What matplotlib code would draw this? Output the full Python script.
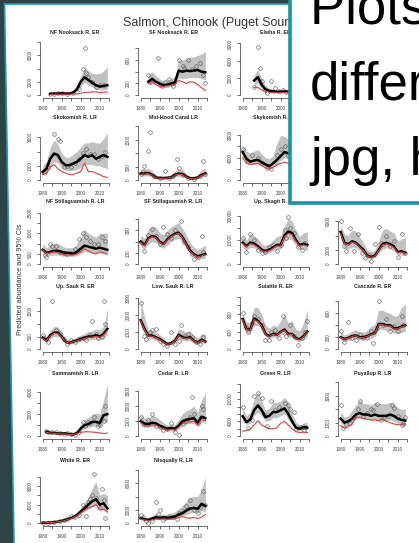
import numpy as np
import matplotlib.pyplot as plt
from matplotlib.patches import Rectangle, Polygon

plt.rcParams['font.family'] = ['Liberation Sans', 'DejaVu Sans']

W, H = 419, 543

# years of the model points (every 2nd year)
YEARS = [1980, 1982, 1984, 1986, 1988, 1990, 1992, 1994, 1996, 1998,
         2000, 2002, 2004, 2006, 2008, 2010, 2012, 2014]
N = None

# NF Nooksack R. ER
nfn_mean = [N, N, 200, 250, 250, 300, 250, 250, 400, 900, 2000, 2700, 2300, 1900, 1500, 1300, 1400, 1500]
nfn_wild = [N, N, 100, 150, 150, 150, 150, 150, 200, 200, 300, 400, 450, 500, 500, 400, 450, 500]
nfn_lo = [N, N, 100, 150, 150, 150, 150, 150, 250, 600, 1300, 1900, 1600, 1300, 900, 800, 800, 900]
nfn_hi = [N, N, 300, 400, 400, 450, 400, 400, 700, 1400, 3000, 4200, 3700, 3300, 3200, 3300, 3600, 4300]
nfn_obs = [(1984, 150), (1986, 200), (1988, 400), (1990, 300), (1993, 250), (1996, 400), (1999, 1000),
           (2001, 3900), (2002, 7100), (2003, 3400), (2004, 2700), (2006, 2000), (2008, 1300),
           (2010, 1500), (2012, 1600)]

# SF Nooksack R. ER
sfn_mean = [N, N, 230, 280, 230, 200, 170, 180, 200, 220, 420, 400, 420, 410, 420, 430, 400, 390]
sfn_wild = [N, N, 200, 230, 180, 150, 150, 160, 170, 180, 250, 230, 200, 230, 220, 180, 130, 80]
sfn_lo = [N, N, 170, 200, 170, 150, 130, 130, 150, 160, 300, 280, 290, 300, 300, 300, 280, 260]
sfn_hi = [N, N, 350, 400, 330, 280, 250, 260, 280, 320, 600, 600, 620, 650, 650, 680, 700, 750]
sfn_obs = [(1984, 350), (1985, 230), (1989, 630), (1990, 180), (1991, 160), (1993, 230), (1995, 280),
           (1997, 160), (2000, 600), (2002, 500), (2003, 470), (2005, 600), (2007, 450), (2009, 500),
           (2011, 550), (2013, 350), (2014, 200)]

# Elwha R. ER
elw_mean = [N, N, N, 1700, 2100, 1200, 700, 500, 450, 400, 400, 450, 400, 400, 350, 350, 300, 300]
elw_wild = [N, N, N, 900, 900, 600, 450, 350, 300, 300, 300, 300, 300, 300, 250, 250, 250, 250]
elw_lo = [N, N, N, 1000, 1400, 800, 450, 330, 300, 280, 280, 300, 270, 270, 230, 230, 200, 200]
elw_hi = [N, N, N, 2300, 3000, 1900, 1100, 800, 700, 650, 650, 700, 650, 650, 600, 600, 550, 550]
elw_obs = [(1986, 1000), (1988, 5600), (1989, 3100), (1990, 1700), (1992, 600), (1993, 300), (1995, 1600),
           (1997, 800), (1999, 500), (2001, 600), (2003, 400), (2005, 500), (2007, 300), (2009, 400)]

# Skokomish R. LR
sko_mean = [580, 810, 1500, 1860, 1750, 1280, 1050, 1050, 1160, 1280, 1500, 1750, 1630, 1750, 1500, 1630, 1750, 1630]
sko_wild = [400, 500, 900, 1100, 800, 600, 500, 400, 400, 500, 600, 1200, 600, 600, 500, 400, 250, 200]
sko_lo = [350, 500, 1000, 1300, 1200, 850, 700, 650, 700, 750, 900, 1100, 1100, 1100, 1000, 1000, 900, 800]
sko_hi = [1000, 1300, 2300, 2800, 2500, 1900, 1600, 1600, 1800, 2000, 2300, 2600, 2600, 2700, 2600, 2600, 2900, 3300]
sko_obs = [(1981, 600), (1983, 900), (1986, 3200), (1988, 2900), (1989, 2700), (1991, 900), (1993, 1000),
           (1995, 900), (1997, 1200), (1999, 1500), (2001, 1900), (2003, 2200), (2005, 1800), (2007, 1800),
           (2009, 1500), (2011, 1700), (2013, 2000)]

# Mid-Hood Canal LR
mhc_mean = [250, 250, 270, 200, 100, 80, 80, 90, 100, 200, 250, 230, 130, 70, 70, 100, 200, 250]
mhc_wild = [230, 230, 250, 180, 90, 70, 70, 80, 90, 180, 230, 210, 110, 60, 60, 90, 180, 230]
mhc_lo = [150, 150, 170, 120, 50, 40, 40, 50, 60, 120, 150, 130, 70, 30, 30, 50, 120, 150]
mhc_hi = [400, 400, 450, 350, 200, 150, 150, 170, 200, 350, 420, 400, 250, 150, 150, 200, 400, 450]
mhc_obs = [(1980, 250), (1981, 350), (1982, 530), (1984, 1100), (1985, 1800), (1987, 150), (1990, 80),
           (1993, 350), (1995, 100), (1997, 150), (1999, 800), (2000, 450), (2002, 200), (2005, 100),
           (2008, 50), (2011, 150), (2013, 700), (2014, 250)]

# Skykomish R. LR
sky_mean = [5000, 3800, 3300, 3500, 3600, 3200, 2800, 2500, 3000, 3600, 4300, 5000, 4800, 4500, 4200, 4000, 4200, 4000]
sky_wild = [4000, 3000, 2800, 2900, 3000, 2600, 2200, 2000, 2300, 2700, 3000, 3200, 3000, 2800, 2600, 2500, 2600, 2500]
sky_lo = [4000, 3000, 2700, 2800, 2900, 2600, 2200, 2000, 2300, 2800, 3500, 4000, 3800, 3500, 3200, 3000, 3100, 2900]
sky_hi = [6200, 5200, 4800, 5200, 5400, 4700, 4000, 3800, 4400, 6500, 8000, 7800, 7200, 6800, 6400, 6200, 6600, 6800]
sky_obs = [(1980, 5500), (1983, 3500), (1985, 4500), (1988, 4000), (1990, 3000), (1993, 2200), (1995, 2000),
           (1998, 4500), (2000, 5500), (2002, 6000), (2004, 4500), (2007, 4000), (2010, 3500), (2012, 5000)]

# NF Stillaguamish R. LR
nfs_mean = [700, 550, 600, 650, 650, 600, 550, 550, 500, 600, 750, 900, 850, 800, 750, 800, 750, 700]
nfs_wild = [700, 500, 550, 600, 550, 500, 450, 450, 450, 500, 600, 750, 650, 550, 500, 600, 550, 500]
nfs_lo = [500, 400, 420, 450, 450, 400, 380, 380, 380, 420, 520, 620, 580, 540, 520, 540, 500, 450]
nfs_hi = [1000, 800, 900, 1000, 1000, 900, 800, 800, 800, 1000, 1300, 1700, 1500, 1400, 1300, 1500, 1500, 1500]
nfs_obs = [(1981, 450), (1982, 350), (1984, 1000), (1985, 900), (1987, 900), (1989, 600), (1991, 550),
           (1993, 500), (1995, 550), (1997, 750), (1999, 1200), (2001, 1500), (2003, 1300), (2005, 1100),
           (2007, 1000), (2009, 1000), (2011, 1300), (2013, 1100)]

# SF Stillaguamish R. LR
sfs_mean = [200, 170, 230, 250, 240, 200, 180, 220, 250, 270, 280, 240, 180, 120, 90, 70, 80, 90]
sfs_wild = [195, 165, 225, 245, 235, 195, 175, 215, 245, 265, 275, 235, 175, 115, 85, 65, 75, 85]
sfs_lo = [160, 130, 180, 200, 190, 160, 140, 170, 200, 220, 230, 190, 140, 90, 60, 45, 50, 55]
sfs_hi = [260, 230, 310, 340, 330, 280, 260, 300, 330, 350, 370, 320, 260, 190, 150, 130, 150, 170]
sfs_obs = [(1980, 200), (1982, 120), (1984, 260), (1986, 310), (1988, 250), (1990, 180), (1992, 330),
           (1994, 270), (1996, 230), (1998, 300), (2001, 380), (2003, 200), (2005, 150), (2007, 90),
           (2008, 50), (2010, 60), (2012, 250), (2013, 110)]

# Up. Skagit R. LR
usk_mean = [9000, 7500, 9000, 8500, 7500, 6000, 5500, 6000, 7000, 8000, 8000, 12000, 13500, 13000, 10000, 8000, 8500, 8000]
usk_wild = [8600, 7100, 8600, 8100, 7100, 5700, 5200, 5700, 6600, 7600, 7600, 11400, 12800, 12300, 9500, 7600, 8000, 7500]
usk_lo = [7000, 5800, 7000, 6800, 6000, 4800, 4300, 4800, 5600, 6300, 6300, 9500, 10500, 10000, 7800, 6000, 6300, 5500]
usk_hi = [11500, 10000, 12500, 12000, 10500, 8500, 7800, 8500, 10000, 11500, 12000, 16000, 19000, 18000, 14000, 11500, 13000, 13500]
usk_obs = [(1980, 11000), (1982, 5000), (1984, 12500), (1986, 10000), (1988, 6000), (1990, 4500),
           (1992, 5000), (1994, 7000), (1996, 8000), (1998, 5500), (2000, 8000), (2002, 14000),
           (2003, 11000), (2004, 19500), (2005, 15000), (2007, 13000), (2009, 7000), (2011, 6000), (2013, 9000)]

# Low. Skagit R. LR (title hidden under the text box)
lsk_mean = [4500, 3000, 2800, 3200, 3000, 2500, 2000, 1200, 1000, 1200, 2000, 2800, 3000, 2800, 2500, 1700, 1800, 1600]
lsk_wild = [4300, 2900, 2700, 3100, 2900, 2400, 1900, 1150, 950, 1150, 1900, 2700, 2850, 2650, 2350, 1600, 1700, 1500]
lsk_lo = [3500, 2200, 2100, 2400, 2300, 1900, 1500, 900, 750, 900, 1500, 2100, 2300, 2100, 1900, 1300, 1300, 1200]
lsk_hi = [5500, 4200, 4000, 4800, 4600, 3800, 3000, 2000, 1700, 2000, 3200, 4800, 5000, 4600, 4400, 3200, 3500, 3700]
lsk_obs = [(1980, 6000), (1982, 2500), (1983, 1800), (1985, 5000), (1987, 1800), (1989, 4200), (1991, 1500),
           (1993, 800), (1995, 1300), (1996, 500), (1998, 2800), (2000, 5200), (2001, 3000), (2002, 2800),
           (2004, 4000), (2006, 2500), (2008, 3200), (2010, 1000), (2012, 4200), (2014, 1500)]

# Up. Sauk R. ER
usa_mean = [450, 350, 550, 650, 650, 500, 300, 250, 300, 350, 400, 450, 500, 500, 550, 500, 600, 800]
usa_wild = [430, 330, 520, 620, 620, 480, 290, 240, 290, 330, 380, 420, 470, 470, 510, 470, 560, 750]
usa_lo = [350, 270, 420, 500, 500, 380, 230, 190, 230, 270, 310, 350, 380, 380, 420, 380, 450, 550]
usa_hi = [600, 480, 750, 900, 880, 680, 420, 350, 420, 480, 550, 620, 700, 720, 800, 750, 900, 1600]
usa_obs = [(1980, 550), (1982, 400), (1983, 300), (1985, 1900), (1987, 750), (1989, 650), (1991, 400),
           (1993, 200), (1995, 350), (1997, 300), (1999, 400), (2001, 450), (2003, 350), (2005, 550),
           (2006, 1100), (2008, 600), (2009, 450), (2011, 500), (2012, 1900), (2013, 1000)]

# Low. Sauk R. LR
lsa_mean = [1700, 1200, 800, 800, 700, 600, 450, 300, 350, 500, 850, 700, 650, 700, 500, 400, 550, 450]
lsa_wild = [1650, 1150, 770, 770, 670, 570, 430, 290, 330, 480, 810, 670, 620, 670, 480, 380, 520, 430]
lsa_lo = [1300, 900, 600, 600, 520, 450, 330, 220, 250, 370, 600, 520, 480, 500, 360, 280, 380, 330]
lsa_hi = [2900, 1900, 1100, 1100, 1000, 850, 650, 450, 500, 700, 1200, 1100, 1000, 1100, 800, 650, 900, 900]
lsa_obs = [(1980, 2700), (1982, 800), (1983, 600), (1985, 1000), (1986, 1100), (1988, 1200), (1990, 500),
           (1992, 300), (1994, 200), (1996, 1000), (1998, 300), (2000, 500), (2001, 1400), (2003, 800),
           (2005, 900), (2007, 700), (2009, 400), (2011, 300), (2013, 700)]

# Suiattle R. ER
sui_mean = [690, 460, 450, 700, 650, 550, 350, 300, 350, 330, 400, 450, 350, 350, 250, 230, 300, 400]
sui_wild = [670, 450, 440, 680, 630, 530, 340, 290, 340, 320, 390, 430, 340, 340, 240, 220, 290, 390]
sui_lo = [500, 370, 370, 540, 540, 450, 280, 240, 280, 260, 320, 360, 280, 270, 190, 170, 220, 280]
sui_hi = [800, 620, 620, 950, 950, 800, 550, 480, 550, 520, 650, 800, 600, 650, 450, 420, 600, 900]
sui_obs = [(1980, 820), (1982, 500), (1983, 400), (1985, 600), (1986, 750), (1988, 700), (1990, 550),
           (1992, 200), (1994, 200), (1995, 400), (1997, 450), (1999, 250), (2001, 750), (2003, 300),
           (2005, 550), (2007, 300), (2009, 100), (2011, 250), (2013, 400), (2014, 650)]

# Cascade R. ER
cas_mean = [200, 170, 190, 220, 230, 200, 200, 220, 250, 270, 420, 420, 400, 400, 350, 350, 380, 400]
cas_wild = [195, 165, 185, 215, 225, 195, 195, 215, 245, 265, 410, 410, 390, 390, 340, 340, 370, 390]
cas_lo = [150, 130, 140, 170, 180, 150, 150, 170, 190, 210, 330, 330, 310, 310, 270, 260, 280, 290]
cas_hi = [280, 240, 260, 300, 330, 280, 280, 320, 380, 420, 650, 650, 620, 600, 550, 560, 700, 750]
cas_obs = [(1980, 300), (1982, 120), (1984, 450), (1986, 180), (1988, 150), (1990, 250), (1992, 200),
           (1994, 180), (1996, 300), (1997, 100), (1999, 350), (2000, 800), (2002, 400), (2004, 500),
           (2006, 300), (2008, 380), (2010, 300), (2012, 550), (2013, 400)]

# Sammamish R. LR
sam_mean = [N, 400, 300, 300, 250, 250, 250, 200, 150, 300, 700, 1000, 1100, 1300, 1300, 1200, 1900, 2000]
sam_wild = [N, 350, 280, 280, 230, 200, 200, 170, 150, 250, 350, 400, 400, 380, 350, 300, 250, 280]
sam_lo = [N, 280, 220, 220, 180, 180, 180, 140, 100, 200, 500, 700, 800, 900, 900, 850, 1300, 1300]
sam_hi = [N, 550, 420, 420, 350, 350, 350, 280, 250, 450, 1100, 1500, 1700, 2000, 2100, 2000, 3200, 4800]
sam_obs = [(1982, 500), (1983, 350), (1985, 400), (1987, 350), (1989, 300), (1991, 200), (1993, 250),
           (1995, 200), (1997, 150), (1999, 400), (2001, 1300), (2002, 900), (2004, 1300), (2005, 1200),
           (2007, 1700), (2009, 900), (2010, 1000), (2012, 1400), (2013, 2700)]

# Cedar R. LR
ced_mean = [1000, 850, 800, 900, 850, 700, 600, 500, 550, 500, 700, 1000, 1100, 1150, 1200, 900, 1300, 1200]
ced_wild = [900, 700, 650, 750, 750, 600, 500, 400, 450, 400, 600, 850, 950, 950, 1000, 750, 1100, 1050]
ced_lo = [700, 600, 600, 650, 650, 500, 400, 350, 380, 350, 500, 750, 800, 850, 850, 650, 950, 850]
ced_hi = [1400, 1200, 1200, 1400, 1300, 1100, 900, 750, 800, 800, 1100, 1500, 1700, 1800, 2000, 1600, 2400, 2900]
ced_obs = [(1980, 1300), (1982, 800), (1984, 1100), (1986, 1500), (1988, 700), (1990, 600), (1992, 400),
           (1994, 500), (1996, 900), (1998, 300), (2000, 100), (2002, 800), (2004, 1000), (2006, 1300),
           (2007, 2600), (2008, 1500), (2010, 900), (2012, 2000), (2013, 1800)]

# Green R. LR
grn_mean = [5400, 3800, 4500, 7000, 8300, 7000, 5100, 5500, 6500, 6500, 7000, 7500, 6000, 4000, 2300, 2000, 2500, 2300]
grn_wild = [1400, 1500, 2000, 3000, 4200, 3000, 2500, 2000, 2000, 2300, 3500, 4000, 3000, 2000, 1200, 1000, 1100, 1000]
grn_lo = [4000, 3000, 3500, 5500, 6500, 5500, 4000, 4200, 5000, 5000, 5500, 6000, 4500, 3000, 1800, 1500, 1800, 1600]
grn_hi = [7500, 5500, 6500, 10000, 12000, 9500, 7000, 7500, 9000, 9000, 9500, 10500, 9000, 6000, 3800, 3000, 3600, 3800]
grn_obs = [(1980, 7900), (1983, 2100), (1985, 4500), (1986, 10800), (1988, 11700), (1990, 10300),
           (1991, 6000), (1993, 2700), (1995, 9400), (1997, 7000), (1999, 8000), (2002, 9000), (2004, 8400),
           (2005, 7200), (2007, 6500), (2008, 2000), (2010, 2500), (2012, 1800), (2013, 2500)]

# Puyallup R. LR
puy_mean = [1300, 1000, 1100, 1300, 1600, 1700, 1600, 1600, 1500, 1600, 1500, 1500, 1500, 1600, 1500, 1300, 1200, 1150]
puy_wild = [800, 600, 700, 900, 1400, 1400, 1300, 1250, 1200, 1200, 1150, 1250, 1100, 1000, 900, 850, 850, 900]
puy_lo = [1000, 750, 850, 1000, 1250, 1350, 1250, 1250, 1150, 1250, 1150, 1150, 1150, 1200, 1100, 950, 850, 800]
puy_hi = [1800, 1400, 1500, 1900, 2300, 2700, 2400, 2400, 2300, 2500, 2400, 2400, 2400, 2500, 2400, 2100, 2000, 2000]
puy_obs = [(1980, 2300), (1981, 600), (1983, 900), (1985, 1000), (1987, 1400), (1989, 2000), (1990, 2600),
           (1992, 1500), (1994, 1700), (1996, 2000), (1997, 1900), (1999, 2400), (2001, 1200), (2003, 1400),
           (2005, 1500), (2007, 2300), (2008, 2100), (2010, 1500), (2012, 800), (2013, 900), (2014, 1400)]

# White R. ER
wht_mean = [100, 100, 150, 200, 350, 500, 700, 1000, 1300, 1800, 2500, 3200, 4000, 4700, 5200, 4000, 4300, 3200]
wht_wild = [80, 100, 140, 180, 320, 450, 650, 900, 1200, 1600, 2200, 2800, 3300, 3600, 4000, 3000, 3000, 2500]
wht_lo = [60, 70, 100, 140, 260, 380, 550, 800, 1050, 1400, 2000, 2500, 3000, 3400, 3900, 2900, 3000, 2000]
wht_hi = [150, 150, 220, 280, 480, 680, 900, 1300, 1700, 2400, 3300, 4300, 5500, 7500, 9000, 6000, 6500, 6000]
wht_obs = [(1980, 150), (1983, 100), (1986, 250), (1989, 400), (1991, 600), (1993, 900), (1995, 1500),
           (1997, 1300), (1999, 1800), (2001, 4000), (2002, 3500), (2003, 1500), (2004, 4500), (2005, 5200),
           (2006, 6000), (2007, 10500), (2008, 5500), (2010, 3300), (2011, 7300), (2012, 5000), (2013, 1100)]

# Nisqually R. LR
nis_mean = [750, 600, 500, 700, 900, 800, 900, 800, 900, 1000, 1300, 1500, 1900, 2200, 2300, 2150, 2900, 2600]
nis_wild = [600, 500, 400, 500, 600, 600, 650, 600, 600, 700, 900, 1000, 800, 750, 900, 700, 900, 1300]
nis_lo = [500, 400, 350, 500, 650, 550, 650, 550, 650, 700, 900, 1100, 1300, 1500, 1600, 1500, 1900, 1700]
nis_hi = [1100, 900, 800, 1100, 1500, 1300, 1400, 1300, 1500, 1700, 2200, 2700, 3300, 3800, 4000, 4000, 5000, 7000]
nis_obs = [(1980, 1300), (1981, 1000), (1983, 400), (1984, 100), (1986, 300), (1988, 3200), (1989, 1400),
           (1990, 2000), (1992, 500), (1993, 800), (1995, 1100), (1997, 900), (1999, 600), (2000, 1500),
           (2002, 1800), (2004, 2600), (2006, 3500), (2008, 2000), (2010, 1500), (2011, 2500), (2013, 4800),
           (2014, 2800)]

# panel: title, row, col, series, y ticks, y tick labels, upper y limit
panels = [
    ("NF Nooksack R. ER", 0, 0, nfn_mean, nfn_wild, nfn_lo, nfn_hi, nfn_obs,
     [0, 2000, 4000, 6000, 8000], ['0', '2000', '', '6000', ''], 8300),
    ("SF Nooksack R. ER", 0, 1, sfn_mean, sfn_wild, sfn_lo, sfn_hi, sfn_obs,
     [0, 200, 400, 600, 800], ['0', '200', '', '600', ''], 940),
    ("Elwha R. ER", 0, 2, elw_mean, elw_wild, elw_lo, elw_hi, elw_obs,
     [0, 2000, 4000, 6000], ['0', '2000', '4000', '6000'], 6400),
    ("Skokomish R. LR", 1, 0, sko_mean, sko_wild, sko_lo, sko_hi, sko_obs,
     [0, 1000, 2000, 3000], ['0', '1000', '', '3000'], 3850),
    ("Mid-Hood Canal LR", 1, 1, mhc_mean, mhc_wild, mhc_lo, mhc_hi, mhc_obs,
     [0, 500, 1000, 1500, 2000], ['0', '500', '', '1500', ''], 2050),
    ("Skykomish R. LR", 1, 2, sky_mean, sky_wild, sky_lo, sky_hi, sky_obs,
     [0, 2000, 4000, 6000, 8000], ['0', '', '4000', '', '8000'], 9800),
    ("NF Stillaguamish R. LR", 2, 0, nfs_mean, nfs_wild, nfs_lo, nfs_hi, nfs_obs,
     [0, 500, 1000, 1500, 2000, 2500], ['0', '500', '', '1500', '', '2500'], 2670),
    ("SF Stillaguamish R. LR", 2, 1, sfs_mean, sfs_wild, sfs_lo, sfs_hi, sfs_obs,
     [0, 100, 200, 300, 400], ['0', '100', '', '300', ''], 490),
    ("Up. Skagit R. LR", 2, 2, usk_mean, usk_wild, usk_lo, usk_hi, usk_obs,
     [0, 5000, 10000, 15000, 20000], ['0', '', '10000', '', '20000'], 22900),
    ("Low. Skagit R. LR", 2, 3, lsk_mean, lsk_wild, lsk_lo, lsk_hi, lsk_obs,
     [0, 2000, 4000, 6000], ['0', '2000', '', '6000'], 7700),
    ("Up. Sauk R. ER", 3, 0, usa_mean, usa_wild, usa_lo, usa_hi, usa_obs,
     [0, 500, 1000, 1500, 2000], ['0', '500', '', '1500', ''], 2170),
    ("Low. Sauk R. LR", 3, 1, lsa_mean, lsa_wild, lsa_lo, lsa_hi, lsa_obs,
     [0, 1000, 2000, 3000], ['0', '1000', '2000', '3000'], 3230),
    ("Suiattle R. ER", 3, 2, sui_mean, sui_wild, sui_lo, sui_hi, sui_obs,
     [0, 200, 400, 600, 800, 1000, 1200], ['0', '', '400', '', '800', '', ''], 1260),
    ("Cascade R. ER", 3, 3, cas_mean, cas_wild, cas_lo, cas_hi, cas_obs,
     [0, 200, 400, 600, 800], ['0', '200', '', '600', ''], 920),
    ("Sammamish R. LR", 4, 0, sam_mean, sam_wild, sam_lo, sam_hi, sam_obs,
     [0, 1000, 2000, 3000, 4000], ['0', '', '2000', '', '4000'], 5000),
    ("Cedar R. LR", 4, 1, ced_mean, ced_wild, ced_lo, ced_hi, ced_obs,
     [0, 1000, 2000, 3000], ['0', '1000', '2000', '3000'], 3670),
    ("Green R. LR", 4, 2, grn_mean, grn_wild, grn_lo, grn_hi, grn_obs,
     [0, 2000, 4000, 6000, 8000, 10000, 12000, 14000], ['0', '', '4000', '', '', '10000', '', ''], 14860),
    ("Puyallup R. LR", 4, 3, puy_mean, puy_wild, puy_lo, puy_hi, puy_obs,
     [0, 1000, 2000, 3000, 4000], ['0', '1000', '', '3000', ''], 4070),
    ("White R. ER", 5, 0, wht_mean, wht_wild, wht_lo, wht_hi, wht_obs,
     [0, 2000, 4000, 6000, 8000, 10000], ['0', '', '4000', '', '8000', ''], 11900),
    ("Nisqually R. LR", 5, 1, nis_mean, nis_wild, nis_lo, nis_hi, nis_obs,
     [0, 2000, 4000, 6000, 8000], ['0', '2000', '', '6000', ''], 8270),
]

COL_X = [40, 138, 240, 338]            # pixel x of the y axis
ROW_Y = [98, 183, 267, 352, 439, 526]  # pixel y of the x axis
AX_W, AX_H = 70, 58

fig = plt.figure(figsize=(W / 100, H / 100), dpi=100)
fig.patch.set_facecolor('white')

yrs = np.array(YEARS)
for title, r, c, mean, wild, lo, hi, obs, yt, ylab, ytop in panels:
    x0, y0 = COL_X[c], ROW_Y[r]
    ax = fig.add_axes([x0 / W, 1 - y0 / H, AX_W / W, AX_H / H])
    ax.patch.set_visible(False)
    ax.fill_between(yrs, np.array(lo, dtype=float), np.array(hi, dtype=float),
                    color='#c2c2c2', lw=0)
    ox, oy = zip(*obs)
    ax.plot(ox, oy, 'o', mfc='none', mec='#5a5a5a', ms=2.6, mew=0.45)
    ax.plot(yrs, np.array(mean, dtype=float), color='black', lw=1.8)
    ax.plot(yrs, np.array(wild, dtype=float), color='#d94040', lw=0.8)
    ax.set_xlim(1978.6, 2015.4)
    ax.set_ylim(-0.05 * ytop, ytop)
    for s in ['top', 'right']:
        ax.spines[s].set_visible(False)
    ax.spines['left'].set_bounds(yt[0], yt[-1])
    ax.spines['bottom'].set_bounds(1980, 2015)
    for s in ['left', 'bottom']:
        ax.spines[s].set_linewidth(0.5)
        ax.spines[s].set_color('#333333')
    ax.set_xticks([1980, 1985, 1990, 1995, 2000, 2005, 2010, 2015])
    ax.set_xticklabels(['1980', '', '1990', '', '2000', '', '2010', ''])
    ax.set_yticks(yt)
    ax.set_yticklabels(ylab, rotation=90, va='center')
    ax.tick_params(length=2, width=0.5, color='#333333', labelsize=3.3,
                   labelcolor='#444444')
    ax.tick_params(axis='x', pad=4)
    ax.tick_params(axis='y', pad=3)
    ax.set_title(title, fontsize=3.8, fontweight='bold', color='#222222', pad=4)

# slide decorations on top
ov = fig.add_axes([0, 0, 1, 1], zorder=20)
ov.set_xlim(0, W)
ov.set_ylim(H, 0)
ov.axis('off')
ov.patch.set_visible(False)

ov.add_patch(Polygon([(0, 0), (4.5, 0), (14, H), (0, H)], closed=True,
                     facecolor='#2f4346', edgecolor='none', zorder=1))
ov.add_patch(Rectangle((0, 0), 290, 3.5, facecolor='#2f4346', edgecolor='none', zorder=1))
ov.plot([4.5, 14], [3.5, H], color='#1a9fa8', lw=1.2, zorder=2)
ov.plot([4.5, 290], [3.8, 3.8], color='#1a9fa8', lw=1.2, zorder=2)

ov.text(123, 26, "Salmon, Chinook (Puget Sound)", fontsize=9, color='#333333',
        ha='left', va='baseline', zorder=0.5)
ov.text(20, 279, "Predicted abundance and 95% CIs", rotation=90, fontsize=5.2,
        color='#333333', ha='center', va='center')

ov.add_patch(Rectangle((290, -20), 200, 223, facecolor='white', edgecolor='#1796a0',
                       lw=2.6, zorder=5))
for txt, yb in [("Plots in", 23), ("different", 99), ("jpg, html", 175)]:
    ov.text(310, yb, txt, fontsize=38, color='black',
            ha='left', va='baseline', zorder=6)

plt.savefig("out.png", dpi=100)
